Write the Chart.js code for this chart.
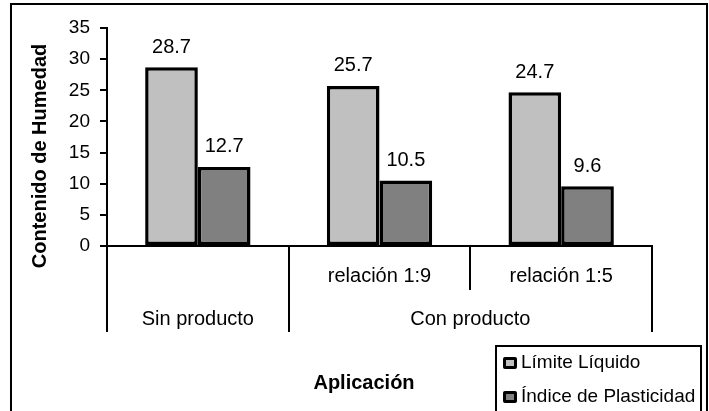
<!DOCTYPE html>
<html>
<head>
<meta charset="utf-8">
<script src="https://cdn.jsdelivr.net/npm/chart.js@4/dist/chart.umd.min.js"></script>
<style>
  html, body { margin: 0; padding: 0; background: #ffffff; }
  #wrap { width: 709px; height: 411px; position: relative; }
</style>
</head>
<body>
<div id="wrap"><canvas id="c" width="709" height="411"></canvas></div>
<script>
// Second-level category labels (one per bar group) and the top-level groups
const subCategories = ['', 'relación 1:9', 'relación 1:5'];
const groupLabels = ['Sin producto', 'Con producto'];
const groupSpans = [1, 2];

// Moisture content values
const limiteLiquido = [28.7, 25.7, 24.7];
const indicePlasticidad = [12.7, 10.5, 9.6];
const seriesNames = ['Límite Líquido', 'Índice de Plasticidad'];
const seriesColors = ['#c0c0c0', '#808080'];

// Y axis range and step
const yMin = 0, yMax = 35, yStep = 5;

const yTitle = 'Contenido de Humedad';
const xTitle = 'Aplicación';

const FONT = '"Liberation Sans", Arial, sans-serif';

// Value labels above each bar
const valueLabels = {
  id: 'valueLabels',
  afterDatasetsDraw(chart) {
    const ctx = chart.ctx;
    ctx.save();
    ctx.fillStyle = '#000';
    ctx.font = '20px ' + FONT;
    ctx.textAlign = 'center';
    ctx.textBaseline = 'middle';
    chart.data.datasets.forEach((ds, di) => {
      const meta = chart.getDatasetMeta(di);
      meta.data.forEach((el, i) => {
        ctx.fillText(String(ds.data[i]), el.x, el.y - 20);
      });
    });
    ctx.restore();
  }
};

// Multi-level category axis, axis titles, legend and outer frame
const decorations = {
  id: 'decorations',
  afterDraw(chart) {
    const ctx = chart.ctx;
    const xs = chart.scales.x;
    const area = chart.chartArea;
    const step = xs.getPixelForValue(1) - xs.getPixelForValue(0);
    const edge = (b) => xs.getPixelForValue(0) + (b - 0.5) * step;
    const axisY = area.bottom;
    const row1Y = axisY + 30;
    const row2Y = axisY + 73;
    const longEnd = axisY + 86;
    const shortEnd = axisY + 44;

    ctx.save();
    ctx.strokeStyle = '#000';
    ctx.lineWidth = 2;

    // group boundaries (long) and sub-category boundaries (short)
    const groupEdges = [0];
    let acc = 0;
    groupSpans.forEach(s => { acc += s; groupEdges.push(acc); });
    for (let b = 0; b <= subCategories.length; b++) {
      const x = Math.round(edge(b));
      const isGroup = groupEdges.includes(b);
      ctx.beginPath();
      ctx.moveTo(x, axisY);
      ctx.lineTo(x, isGroup ? longEnd : shortEnd);
      ctx.stroke();
    }

    ctx.fillStyle = '#000';
    ctx.textAlign = 'center';
    ctx.textBaseline = 'middle';
    ctx.font = '20px ' + FONT;
    subCategories.forEach((lab, i) => {
      if (lab) ctx.fillText(lab, xs.getPixelForValue(i), row1Y);
    });
    let start = 0;
    groupLabels.forEach((lab, gi) => {
      const end = start + groupSpans[gi];
      ctx.fillText(lab, (edge(start) + edge(end)) / 2, row2Y);
      start = end;
    });

    // axis titles
    ctx.font = 'bold 20px ' + FONT;
    ctx.fillText(xTitle, 364, 383);
    ctx.save();
    ctx.translate(40, 156);
    ctx.rotate(-Math.PI / 2);
    ctx.fillText(yTitle, 0, 0);
    ctx.restore();

    // legend
    ctx.lineWidth = 2;
    ctx.strokeRect(496, 346, 205, 80);
    ctx.font = '19px ' + FONT;
    ctx.textAlign = 'left';
    const rows = [363, 397];
    chart.data.datasets.forEach((ds, di) => {
      const cy = rows[di];
      ctx.fillStyle = '#000';
      ctx.beginPath();
      ctx.roundRect(503, cy - 6, 14, 12, 2);
      ctx.fill();
      ctx.fillStyle = ds.backgroundColor;
      ctx.fillRect(506, cy - 3, 8, 6);
      ctx.fillStyle = '#000';
      ctx.fillText(ds.label, 521, cy);
    });

    // outer frame
    ctx.lineWidth = 2;
    ctx.strokeRect(11, 4, 696, 420);
    ctx.restore();
  }
};

new Chart(document.getElementById('c'), {
  type: 'bar',
  data: {
    labels: subCategories,
    datasets: [
      { label: seriesNames[0], data: limiteLiquido, backgroundColor: seriesColors[0] },
      { label: seriesNames[1], data: indicePlasticidad, backgroundColor: seriesColors[1] }
    ]
  },
  options: {
    responsive: false,
    animation: false,
    devicePixelRatio: 1,
    layout: { padding: { top: 28, right: 57, left: 0, bottom: 0 } },
    datasets: {
      bar: {
        borderColor: '#000',
        borderWidth: 3.5,
        borderSkipped: false,
        categoryPercentage: 0.58,
        barPercentage: 1.0
      }
    },
    plugins: {
      legend: { display: false },
      tooltip: { enabled: false },
      title: { display: false }
    },
    scales: {
      x: {
        type: 'category',
        offset: true,
        grid: { display: false },
        border: { display: true, color: '#000', width: 2 },
        ticks: { display: false },
        afterFit(scale) { scale.height = 165; }
      },
      y: {
        min: yMin,
        max: yMax,
        ticks: {
          stepSize: yStep,
          color: '#000',
          padding: 10,
          font: { family: FONT, size: 19 }
        },
        grid: {
          display: true,
          drawOnChartArea: false,
          drawTicks: true,
          tickLength: 7,
          color: '#000',
          lineWidth: 2
        },
        border: { display: true, color: '#000', width: 2 },
        afterFit(scale) { scale.width = 107; }
      }
    }
  },
  plugins: [valueLabels, decorations]
});
</script>
</body>
</html>
